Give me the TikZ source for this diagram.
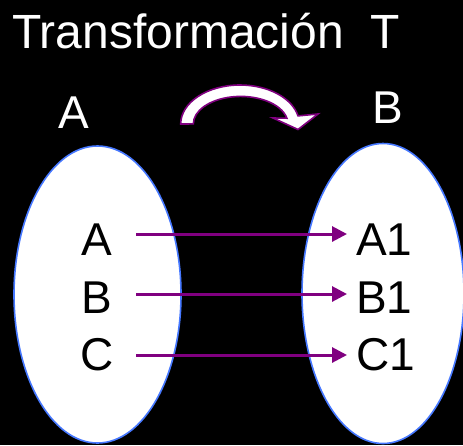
\documentclass[tikz,border=0pt]{standalone}
\usepackage{fontspec}
\setmainfont{Liberation Sans}
\usetikzlibrary{arrows.meta}
\definecolor{arrowpurple}{RGB}{128,0,128}
\definecolor{setblue}{RGB}{70,120,255}
\begin{document}
\begin{tikzpicture}[x=1pt,y=1pt,
  settext/.style={text=white,inner sep=0pt,font=\fontsize{46}{50}\selectfont},
  inset/.style={text=black,inner sep=0pt,font=\fontsize{46}{50}\selectfont},
  setshape/.style={draw=setblue,fill=white,line width=1.6pt},
  conn/.style={draw=arrowpurple,line width=3pt,-{Triangle[length=15pt,width=15pt]}},
  bigarrow/.style={draw=arrowpurple,fill=white,line width=1.6pt,line join=miter}]
\fill[black] (0,0) rectangle (463,-445);
\useasboundingbox (0,0) rectangle (463,-445);
% title
\node[text=white,inner sep=0pt,anchor=base west,font=\fontsize{48}{52}\selectfont] (title) at (12,-48) {Transformación\ \ T};
% set labels
\node[settext,anchor=base] (labA) at (73.5,-128) {A};
\node[settext,anchor=base] (labB) at (387.5,-123) {B};
% curved block arrow
\draw[bigarrow] (180.7,-124) arc[start angle=180,end angle=12,x radius=59.3pt,y radius=39pt]
  -- (318,-114) -- (298,-129.5) -- (273,-118) -- (286.9,-118.2)
  arc[start angle=12,end angle=180,x radius=47.3pt,y radius=27.5pt] -- cycle;
% sets
\draw[setshape] (97.5,-294.5) ellipse [x radius=83.5pt, y radius=148.5pt];
\draw[setshape] (383,-293.5) ellipse [x radius=81pt, y radius=150pt];
% elements
\node[inset,anchor=base] (la) at (97,-255) {A};
\node[inset,anchor=base] (lb) at (97,-313) {B};
\node[inset,anchor=base] (lc) at (97,-370) {C};
\node[inset,anchor=base west] (ra) at (356,-255) {A1};
\node[inset,anchor=base west] (rb) at (356,-313) {B1};
\node[inset,anchor=base west] (rc) at (356,-370) {C1};
% connector start points
\coordinate (sa) at (136,-234);
\coordinate (sb) at (136,-294);
\coordinate (sc) at (136,-355);
\draw[conn,shorten >=9pt] (sa) -- (ra.west |- sa);
\draw[conn,shorten >=9pt] (sb) -- (rb.west |- sb);
\draw[conn,shorten >=9pt] (sc) -- (rc.west |- sc);
\end{tikzpicture}
\end{document}
